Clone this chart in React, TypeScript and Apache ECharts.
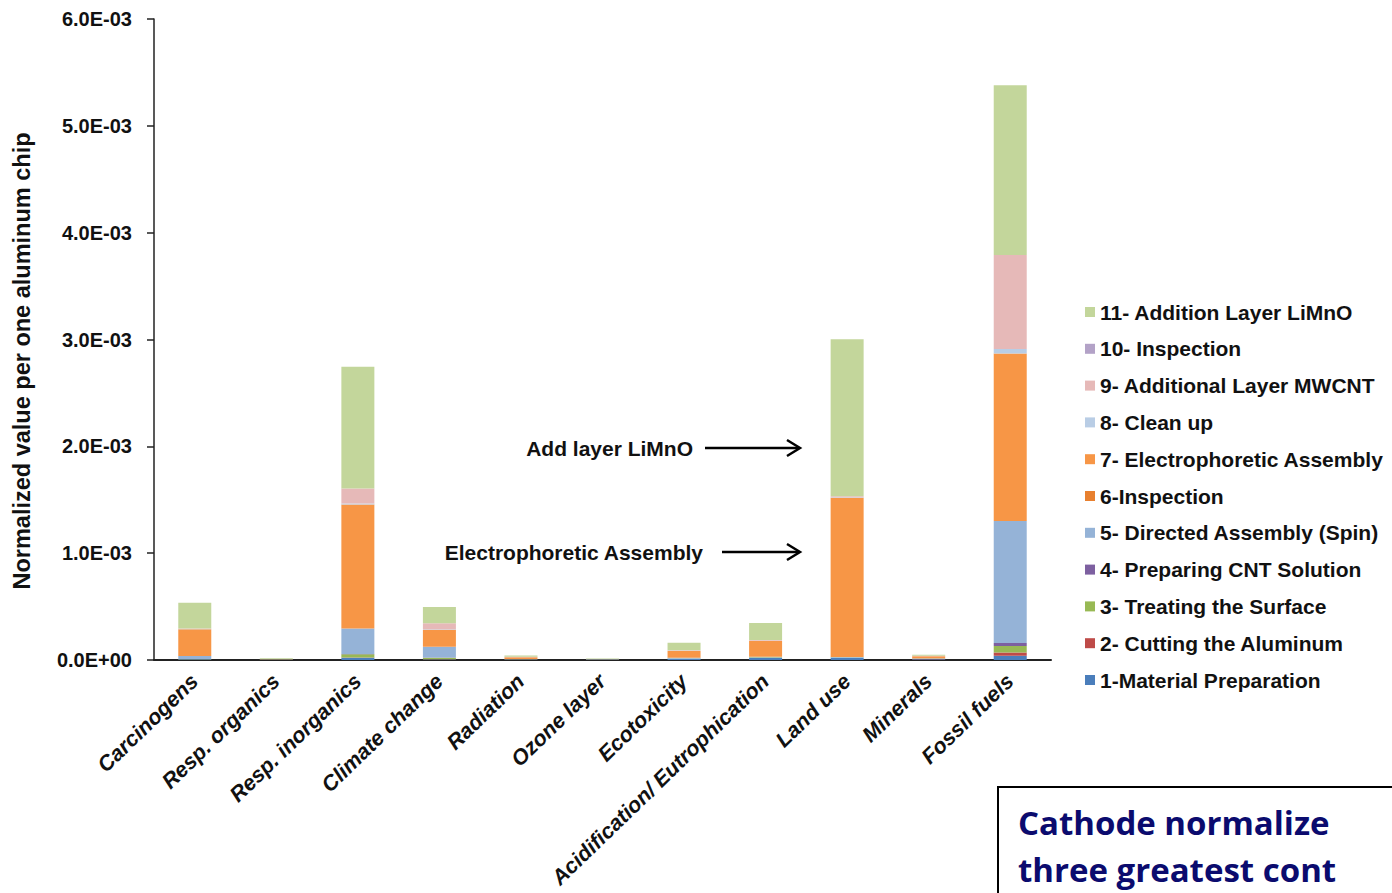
import React, { useEffect, useRef } from "react";
import * as echarts from "echarts";

const categories = [
  "Carcinogens",
  "Resp. organics",
  "Resp. inorganics",
  "Climate change",
  "Radiation",
  "Ozone layer",
  "Ecotoxicity",
  "Acidification/ Eutrophication",
  "Land use",
  "Minerals",
  "Fossil fuels",
];

// stages, bottom of the stack first
const stageNames = [
  "1-Material Preparation",
  "2- Cutting the Aluminum",
  "3- Treating the Surface",
  "4- Preparing CNT Solution",
  "5- Directed Assembly (Spin)",
  "6-Inspection",
  "7- Electrophoretic Assembly",
  "8- Clean up",
  "9- Additional Layer MWCNT",
  "10- Inspection",
  "11- Addition Layer LiMnO",
];

const stageColors = [
  "#4A7EBB",
  "#BE4B48",
  "#98B954",
  "#7D60A0",
  "#95B3D7",
  "#E8802F",
  "#F79646",
  "#B9CDE5",
  "#E6B9B8",
  "#B3A2C7",
  "#C3D69B",
];

// values in units of 1E-03
const UNIT = 1e-3;
const s1 = [0.005, 0.002, 0.02, 0.005, 0.003, 0.002, 0.012, 0.02, 0.02, 0.008, 0.04];
const s2 = [0.0, 0.0, 0.003, 0.002, 0.002, 0.0, 0.0, 0.0, 0.0, 0.003, 0.03];
const s3 = [0.003, 0.002, 0.03, 0.015, 0.002, 0.003, 0.003, 0.005, 0.003, 0.003, 0.06];
const s4 = [0.0, 0.0, 0.003, 0.002, 0.0, 0.0, 0.0, 0.0, 0.0, 0.0, 0.03];
const s5 = [0.03, 0.002, 0.24, 0.1, 0.003, 0.001, 0.005, 0.005, 0.005, 0.003, 1.14];
const s6 = [0.0, 0.0, 0.0, 0.0, 0.0, 0.0, 0.0, 0.0, 0.0, 0.0, 0.0];
const s7 = [0.25, 0.003, 1.16, 0.16, 0.015, 0.002, 0.065, 0.15, 1.49, 0.018, 1.57];
const s8 = [0.002, 0.0, 0.01, 0.005, 0.0, 0.0, 0.002, 0.002, 0.005, 0.0, 0.04];
const s9 = [0.005, 0.001, 0.14, 0.056, 0.005, 0.001, 0.005, 0.005, 0.01, 0.005, 0.88];
const s10 = [0.0, 0.0, 0.0, 0.0, 0.0, 0.0, 0.0, 0.0, 0.0, 0.0, 0.0];
const s11 = [0.24, 0.006, 1.14, 0.15, 0.012, 0.005, 0.07, 0.16, 1.47, 0.01, 1.59];
const stageValues = [s1, s2, s3, s4, s5, s6, s7, s8, s9, s10, s11];

const yMin = 0;
const yMax = 6e-3;
const yInterval = 1e-3;

const yAxisTitle = "Normalized value per one aluminum chip";
const noteLiMnO = "Add layer LiMnO";
const noteEPA = "Electrophoretic Assembly";
const boxLine1 = "Cathode normalize";
const boxLine2 = "three greatest cont";

const FONT = "Liberation Sans, Arial, sans-serif";
const BOX_FONT = "Open Sans, Noto Sans, sans-serif";

function fmtSci(v: number): string {
  if (v === 0) return "0.0E+00";
  const [m, e] = v.toExponential(1).split("e");
  const n = parseInt(e, 10);
  const sign = n < 0 ? "-" : "+";
  return `${m}E${sign}${String(Math.abs(n)).padStart(2, "0")}`;
}

export default function App() {
  const ref = useRef<HTMLDivElement>(null);

  useEffect(() => {
    document.body.style.margin = "0";
    if (!ref.current) return;
    const chart = echarts.init(ref.current, null, { renderer: "svg" });

    const series = stageNames.map((name, i) => ({
      name,
      type: "bar" as const,
      stack: "total",
      barWidth: 33,
      itemStyle: { color: stageColors[i] },
      data: stageValues[i].map((v) => v * UNIT),
    }));

    const arrow = (y: number, x1: number, x2: number) => [
      {
        type: "line",
        shape: { x1, y1: y, x2: x2 - 1, y2: y },
        style: { stroke: "#000", lineWidth: 2.5 },
      },
      {
        type: "polyline",
        shape: { points: [[x2 - 13, y - 8], [x2, y], [x2 - 13, y + 8]] },
        style: { stroke: "#000", lineWidth: 2.5, fill: null },
      },
    ];

    chart.setOption({
      animation: false,
      backgroundColor: "#fff",
      textStyle: { fontFamily: FONT },
      grid: { left: 154, right: 341, top: 19, bottom: 233, containLabel: false },
      legend: {
        orient: "vertical",
        left: 1080,
        top: 296,
        icon: "rect",
        itemWidth: 10,
        itemHeight: 10,
        itemGap: 14.8,
        data: [...stageNames].reverse(),
        textStyle: {
          fontSize: 21,
          fontWeight: "bold",
          color: "#111",
          fontFamily: FONT,
          lineHeight: 22,
        },
      },
      xAxis: {
        type: "category",
        data: categories,
        axisLine: { lineStyle: { color: "#222", width: 2 } },
        axisTick: { show: false },
        axisLabel: {
          interval: 0,
          rotate: 44,
          margin: 18,
          fontSize: 21.5,
          fontWeight: "bold",
          fontStyle: "italic",
          color: "#111",
          fontFamily: FONT,
        },
      },
      yAxis: {
        type: "value",
        min: yMin,
        max: yMax,
        interval: yInterval,
        axisLine: { show: true, lineStyle: { color: "#222", width: 1.5 } },
        axisTick: { show: true, length: 7, lineStyle: { color: "#222", width: 1.5 } },
        splitLine: { show: false },
        axisLabel: {
          formatter: (v: number) => fmtSci(v),
          margin: 22,
          fontSize: 20,
          fontWeight: "bold",
          color: "#111",
          fontFamily: FONT,
        },
      },
      series,
      graphic: [
        {
          type: "text",
          x: 22,
          y: 361,
          rotation: Math.PI / 2,
          style: {
            text: yAxisTitle,
            x: 0,
            y: 0,
            align: "center",
            verticalAlign: "middle",
            fontSize: 23.5,
            fontWeight: "bold",
            fontFamily: FONT,
            fill: "#111",
          },
        },
        {
          type: "text",
          style: {
            text: noteLiMnO,
            x: 693,
            y: 448,
            align: "right",
            verticalAlign: "middle",
            fontSize: 21,
            fontWeight: "bold",
            fontFamily: FONT,
            fill: "#111",
          },
        },
        ...arrow(448, 705, 800),
        {
          type: "text",
          style: {
            text: noteEPA,
            x: 703,
            y: 552,
            align: "right",
            verticalAlign: "middle",
            fontSize: 21,
            fontWeight: "bold",
            fontFamily: FONT,
            fill: "#111",
          },
        },
        ...arrow(552, 722, 800),
        {
          type: "rect",
          shape: { x: 998, y: 787, width: 500, height: 200 },
          style: { fill: "#fff", stroke: "#000", lineWidth: 2 },
        },
        {
          type: "text",
          style: {
            text: boxLine1,
            x: 1018,
            y: 806,
            align: "left",
            verticalAlign: "top",
            fontSize: 33,
            fontWeight: "bold",
            fontFamily: BOX_FONT,
            fill: "#0B0B6E",
          },
        },
        {
          type: "text",
          style: {
            text: boxLine2,
            x: 1018,
            y: 853,
            align: "left",
            verticalAlign: "top",
            fontSize: 33,
            fontWeight: "bold",
            fontFamily: BOX_FONT,
            fill: "#0B0B6E",
          },
        },
      ],
    });

    return () => chart.dispose();
  }, []);

  return <div ref={ref} style={{ width: 1392, height: 893 }} />;
}
